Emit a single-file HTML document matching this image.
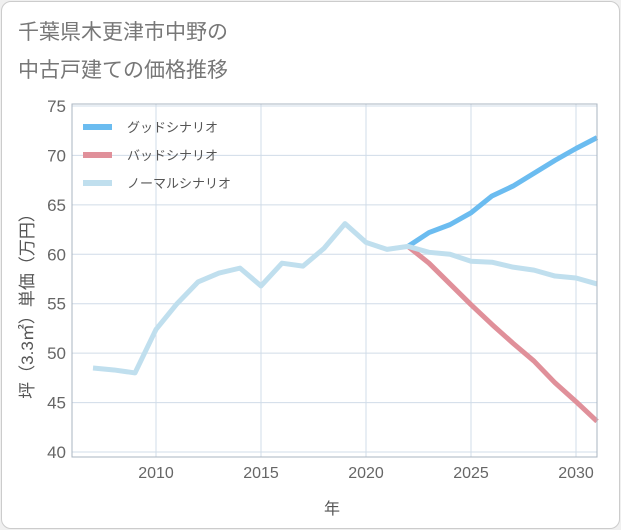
<!DOCTYPE html>
<html><head><meta charset="utf-8">
<style>
html,body{margin:0;padding:0;background:#f0f0f0;}
body{width:621px;height:530px;overflow:hidden;font-family:"Liberation Sans","Noto Sans CJK JP",sans-serif;}
.card{position:absolute;left:1px;top:1px;width:617px;height:526px;background:#fff;border:1px solid #ccc;border-radius:10px;}
</style></head><body>
<div class="card"></div>
<svg width="621" height="530" style="position:absolute;left:0;top:0">
<text x="18" y="39" font-size="21" fill="#777">千葉県木更津市中野の</text>
<text x="18" y="77" font-size="21" fill="#777">中古戸建ての価格推移</text>
<g id="grid"></g><g id="series"></g><g id="axes"></g><g id="legend"></g>
<text x="332" y="514" font-size="16" fill="#555" text-anchor="middle">年</text>
<text transform="translate(33,302) rotate(-90)" font-size="17" fill="#555" text-anchor="middle">坪（3.3㎡）単価（万円）</text>
</svg>
<script>
const years=[2007,2008,2009,2010,2011,2012,2013,2014,2015,2016,2017,2018,2019,2020,2021,2022,2023,2024,2025,2026,2027,2028,2029,2030,2031];
const normal=[48.5,48.3,48.0,52.4,55.0,57.2,58.1,58.6,56.8,59.1,58.8,60.6,63.1,61.2,60.5,60.8,60.2,60.0,59.3,59.2,58.7,58.4,57.8,57.6,57.0];
const futureYears=[2022,2023,2024,2025,2026,2027,2028,2029,2030,2031];
const good=[60.8,62.2,63.0,64.2,65.9,66.9,68.2,69.5,70.7,71.8];
const bad=[60.8,59.1,57.0,54.9,52.9,51.0,49.2,47.0,45.1,43.1];
const xTicks=[2010,2015,2020,2025,2030];
const yTicks=[40,45,50,55,60,65,70,75];
const NS='http://www.w3.org/2000/svg';
const L=72,R=597,T=104,B=457;
const x=v=>L+(v-2006)/(2031-2006)*(R-L);
const y=v=>452+(v-40)/(75-40)*(106-452);
function mk(tag,attrs,parent){const e=document.createElementNS(NS,tag);for(const k in attrs)e.setAttribute(k,attrs[k]);parent.appendChild(e);return e;}
const grid=document.getElementById('grid'),axes=document.getElementById('axes'),ser=document.getElementById('series'),leg=document.getElementById('legend');
yTicks.forEach(t=>{const l=mk('line',{x1:L,x2:R,y1:y(t),y2:y(t),stroke:'#d0dce8','stroke-width':1},grid);

const tx=mk('text',{x:L-6,y:y(t)+6,'font-size':17,fill:'#666','text-anchor':'end'},axes);tx.textContent=t;
});
xTicks.forEach(t=>{const l=mk('line',{x1:x(t),x2:x(t),y1:T,y2:B,stroke:'#d0dce8','stroke-width':1},grid);

const tx=mk('text',{x:x(t),y:B+21,'font-size':16,fill:'#666','text-anchor':'middle'},axes);tx.textContent=t;
});
const fr=mk('rect',{x:L,y:T,width:R-L,height:B-T,fill:'none',stroke:'#aab4c0','stroke-width':1},axes);

function line(xs,vs,color,name){const p=mk('polyline',{points:xs.map((v,i)=>x(v)+','+y(vs[i])).join(' '),fill:'none',stroke:color,'stroke-width':5,'stroke-linejoin':'round'},ser);
}
line(futureYears,good,'#6bbcf0','good-scenario-line');
line(futureYears,bad,'#e0909a','bad-scenario-line');
line(years,normal,'#c0dfee','normal-scenario-line');
[['グッドシナリオ','#6bbcf0'],['バッドシナリオ','#e0909a'],['ノーマルシナリオ','#c0dfee']].forEach((d,i)=>{
const yy=127+i*28;const g=mk('g',{},leg);
mk('line',{x1:83,x2:112,y1:yy,y2:yy,stroke:d[1],'stroke-width':6},g);
const t=mk('text',{x:127,y:yy+5,'font-size':13,fill:'#555'},g);t.textContent=d[0];});
</script>
</body></html>
